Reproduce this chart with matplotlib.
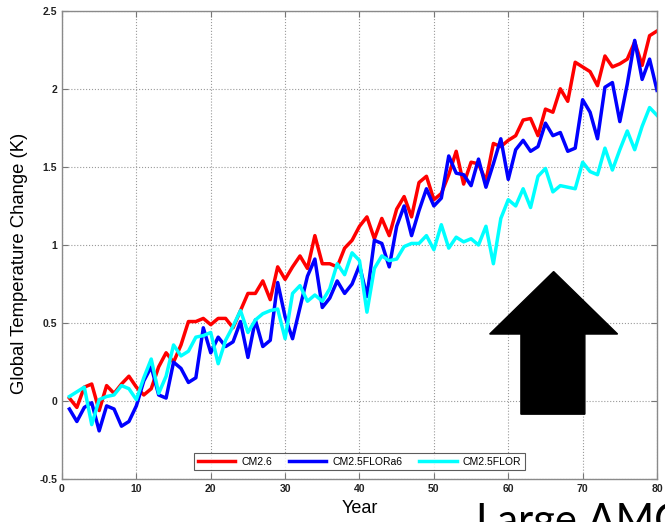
import numpy as np
import matplotlib
matplotlib.use("Agg")
import matplotlib.pyplot as plt
from matplotlib.patches import Polygon

# Data
years = np.arange(1, 81)

cm26 = [0.02, -0.04, 0.09, 0.11, -0.06, 0.10, 0.05, 0.11, 0.16, 0.09,
        0.04, 0.08, 0.22, 0.31, 0.25, 0.36, 0.51, 0.51, 0.53, 0.49,
        0.53, 0.53, 0.47, 0.58, 0.69, 0.69, 0.77, 0.65, 0.86, 0.78,
        0.86, 0.93, 0.85, 1.06, 0.88, 0.88, 0.86, 0.98, 1.03, 1.12,
        1.18, 1.04, 1.17, 1.06, 1.23, 1.31, 1.18, 1.40, 1.44, 1.29,
        1.33, 1.45, 1.60, 1.39, 1.53, 1.52, 1.41, 1.65, 1.63, 1.67,
        1.70, 1.80, 1.81, 1.70, 1.87, 1.85, 2.00, 1.92, 2.17, 2.14,
        2.11, 2.02, 2.21, 2.14, 2.16, 2.19, 2.30, 2.15, 2.34, 2.37]

flora6 = [-0.05, -0.13, -0.04, -0.01, -0.19, -0.03, -0.05, -0.16, -0.13, -0.03,
          0.13, 0.22, 0.04, 0.02, 0.25, 0.21, 0.12, 0.15, 0.47, 0.31,
          0.41, 0.35, 0.38, 0.51, 0.28, 0.52, 0.35, 0.39, 0.76, 0.54,
          0.40, 0.60, 0.80, 0.91, 0.60, 0.66, 0.77, 0.69, 0.75, 0.87,
          0.67, 1.03, 1.01, 0.86, 1.12, 1.25, 1.06, 1.22, 1.36, 1.25,
          1.30, 1.57, 1.46, 1.45, 1.38, 1.55, 1.37, 1.52, 1.68, 1.42,
          1.61, 1.67, 1.60, 1.63, 1.78, 1.70, 1.72, 1.60, 1.62, 1.93,
          1.85, 1.68, 2.01, 2.04, 1.79, 2.03, 2.31, 2.06, 2.19, 1.99]

flor = [0.03, 0.06, 0.09, -0.15, 0.01, 0.03, 0.04, 0.10, 0.08, 0.01,
        0.15, 0.27, 0.05, 0.16, 0.36, 0.29, 0.32, 0.41, 0.42, 0.44,
        0.24, 0.39, 0.48, 0.58, 0.44, 0.52, 0.56, 0.58, 0.59, 0.40,
        0.69, 0.74, 0.64, 0.68, 0.64, 0.72, 0.88, 0.81, 0.95, 0.90,
        0.57, 0.85, 0.93, 0.90, 0.91, 0.99, 1.01, 1.01, 1.06, 0.97,
        1.13, 0.98, 1.05, 1.02, 1.04, 1.00, 1.12, 0.88, 1.17, 1.29,
        1.25, 1.36, 1.24, 1.44, 1.49, 1.34, 1.38, 1.37, 1.36, 1.53,
        1.47, 1.45, 1.62, 1.48, 1.61, 1.73, 1.61, 1.76, 1.88, 1.83]

labels = ["CM2.6", "CM2.5FLORa6", "CM2.5FLOR"]
colors = ["#ff0000", "#0000ff", "#00ffff"]

xticks = [0, 10, 20, 30, 40, 50, 60, 70, 80]
yticks = [-0.5, 0, 0.5, 1, 1.5, 2, 2.5]
yticklabels = ["-0.5", "0", "0.5", "1", "1.5", "2", "2.5"]

plt.rcParams['font.family'] = ['Liberation Sans', 'DejaVu Sans']

fig = plt.figure(figsize=(6.65, 5.22), dpi=100)
ax = fig.add_axes([0.0932, 0.0818, 0.8948, 0.8977])

for series, lab, col in zip([cm26, flora6, flor], labels, colors):
    ax.plot(years, series, color=col, lw=2.5, label=lab)

ax.set_xlim(0, 80)
ax.set_ylim(-0.5, 2.5)
ax.set_xticks(xticks)
ax.set_yticks(yticks)
ax.set_yticklabels(yticklabels)
ax.tick_params(direction='in', top=True, right=True, labelsize=7.5, length=4,
               color='#777777', width=0.8)
for t in ax.get_xticklabels() + ax.get_yticklabels():
    t.set_fontweight('bold')
    t.set_color('#222222')
for s in ax.spines.values():
    s.set_color('#8a8a8a')
    s.set_linewidth(1.0)
ax.grid(True, ls=':', color='#9a9a9a', lw=0.8)

ax.set_ylabel("Global Temperature Change (K)", fontsize=13.3)
ax.yaxis.set_label_coords(-0.057, 0.46)
ax.set_xlabel("Year", fontsize=13, labelpad=4)

leg = ax.legend(loc='lower center', bbox_to_anchor=(0.5, 0.008), ncol=3,
                fontsize=7.5, fancybox=False, handlelength=3.6,
                borderpad=0.35, columnspacing=1.6, handletextpad=0.6)
leg.get_frame().set_edgecolor('#333333')
leg.get_frame().set_linewidth(0.8)

# big black arrow overlay
arrow = Polygon([(66.1, 0.83), (74.7, 0.43), (70.3, 0.43), (70.3, -0.083),
                 (61.7, -0.083), (61.7, 0.43), (57.5, 0.43)],
                closed=True, facecolor='black', edgecolor='black', zorder=5)
ax.add_patch(arrow)

fig.text(476 / 665, 1 - 503 / 522, "Large AMOC", fontsize=30, va='top',
         ha='left', family=['Lato', 'DejaVu Sans'], color='black')

fig.savefig("out.png", dpi=100)
